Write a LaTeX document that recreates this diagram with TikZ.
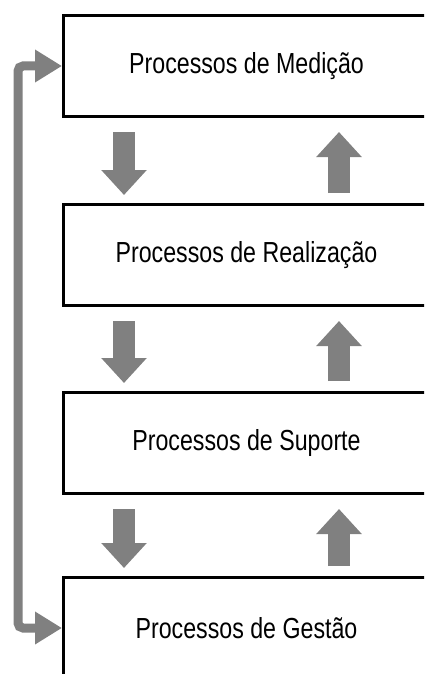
\documentclass[tikz,border=0pt]{standalone}
\usepackage{fontspec}
\newfontfamily\boxfont{Liberation Sans}[FakeStretch=0.8]
\usetikzlibrary{arrows.meta,calc,positioning}
\tikzset{
	procbox/.style={
			draw=black, line width=3pt, fill=white, inner sep=0pt,
			minimum width=366pt, minimum height=101pt,
			font=\boxfont\fontsize{29}{34}\selectfont
		},
	flow/.style={
			draw=gray, line width=22pt,
			-{Triangle[length=25pt, width=44pt]}
		},
	feedback/.style={
			draw=gray, line width=9pt, rounded corners=5pt,
			{Triangle[length=27pt, width=31pt]}-{Triangle[length=27pt, width=31pt]}
		}
}

\begin{document}
\begin{tikzpicture}[x=1pt, y=-1pt]
		\useasboundingbox (0, 0) rectangle (424, 674);
		\clip (0, 0) rectangle (424, 674);

		\node[procbox, anchor=north west]	(med) at (62, 14)	{Processos de Medição};
		\node[procbox, below=85pt of med]	(rea)	{Processos de Realização};
		\node[procbox, below=84pt of rea]	(sup)	{Processos de Suporte};
		\node[procbox, below=81pt of sup]	(ges)	{Processos de Gestão};

		\foreach \a/\b in {med/rea, rea/sup, sup/ges} {
			\draw[flow]	($(\a.south west) + (62, 14)$) to ($(\b.north west) + (62, -8)$);
			\draw[flow]	($(\b.north west) + (277, -10)$) to ($(\a.south west) + (277, 14)$);
		}

		\draw[feedback]	(ges.west) -- ++(-44, 0) |- (med.west);
	\end{tikzpicture}
\end{document}
